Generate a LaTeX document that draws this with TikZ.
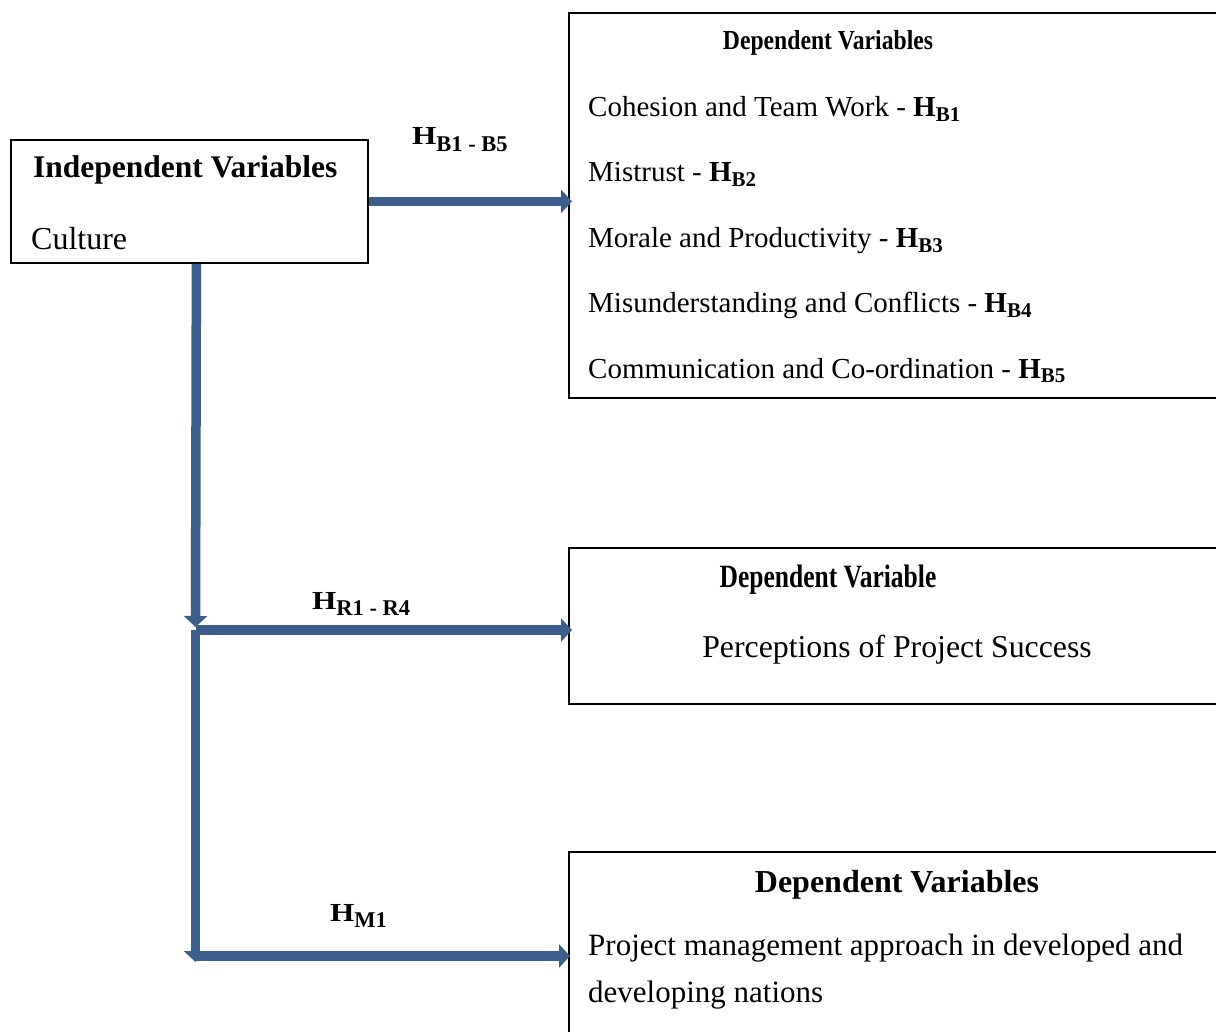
\documentclass[tikz,border=0pt]{standalone}
\usepackage{graphicx}
\usepackage{fontspec}
\setmainfont{Liberation Serif}
\usetikzlibrary{arrows.meta}
\definecolor{arrowblue}{RGB}{59,94,140}
% bold H with a lowered, smaller subscript (used inside the boxes)
\newcommand\hypsub[1]{{\bfseries H\raisebox{-5pt}{\fontsize{21}{21}\selectfont #1}}}
% hypothesis label set above an arrow
\newcommand\arrowlabel[1]{{\bfseries\fontsize{26}{30}\selectfont\scalebox{1.2}[1]{H}\raisebox{-6.4pt}{\fontsize{22.5}{22}\selectfont #1}}}
\begin{document}
\begin{tikzpicture}[x=1pt,y=-1pt,
  box/.style={draw=black, line width=1.8pt, rectangle, inner sep=0pt, anchor=north west},
  txt/.style={inner sep=0pt, anchor=base west, font=\fontsize{29}{35}\selectfont},
  ctxt/.style={inner sep=0pt, anchor=base},
  conn/.style={draw=arrowblue, line width=9.5pt, -{Triangle[length=11pt,width=23pt]}}]
\path[use as bounding box] (0,0) rectangle (1216,1032);
\clip (0,0) rectangle (1216,1032);

% boxes
\node[box, minimum width=357pt, minimum height=123pt] (indep) at (10,139) {};
\node[box, minimum width=680pt, minimum height=385pt] (dep1) at (568,12) {};
\node[box, minimum width=680pt, minimum height=156pt] (dep2) at (568,547) {};
\node[box, minimum width=680pt, minimum height=200pt] (dep3) at (568,851) {};

% independent variables
\node[txt, font=\bfseries\fontsize{31.5}{37}\selectfont] (ivhead) at (33,178) {Independent Variables};
\node[txt, font=\fontsize{32}{38}\selectfont] (ivitem) at (31,250) {Culture};

% first group of dependent variables
\node[ctxt] (dv1head) at (828,50) {\scalebox{0.86}[1]{\bfseries\fontsize{27.5}{32}\selectfont Dependent Variables}};
\node[txt] (dv1a) at (588,117) {Cohesion and Team Work - \hypsub{B1}};
\node[txt] (dv1b) at (588,182) {Mistrust - \hypsub{B2}};
\node[txt] (dv1c) at (588,248) {Morale and Productivity - \hypsub{B3}};
\node[txt] (dv1d) at (588,313) {Misunderstanding and Conflicts - \hypsub{B4}};
\node[txt] (dv1e) at (588,378) {Communication and Co-ordination - \hypsub{B5}};

% second dependent variable
\node[ctxt] (dv2head) at (828,587) {\scalebox{0.785}[1]{\bfseries\fontsize{32.5}{38}\selectfont Dependent Variable}};
\node[ctxt, font=\fontsize{31.8}{38}\selectfont] (dv2item) at (897,657) {Perceptions of Project Success};

% third group of dependent variables
\node[ctxt, font=\bfseries\fontsize{32}{38}\selectfont] (dv3head) at (897,892) {Dependent Variables};
\node[txt, font=\fontsize{31}{37}\selectfont] (dv3a) at (588,955) {Project management approach in developed and};
\node[txt, font=\fontsize{31}{37}\selectfont] (dv3b) at (588,1002) {developing nations};

% hypothesis labels
\node[inner sep=0pt, anchor=base west] (lbB) at (412,145) {\arrowlabel{B1 - B5}};
\node[inner sep=0pt, anchor=base west] (lbR) at (312,609) {\arrowlabel{R1 - R4}};
\node[inner sep=0pt, anchor=base west] (lbM) at (330,921) {\arrowlabel{M1}};

% connectors
\coordinate (j1) at (195.5,627);
\coordinate (j2) at (195.5,630);
\coordinate (j3) at (195.5,962);
\coordinate (j4) at (195.5,956);
\draw[conn] (indep.east) -- ([xshift=4pt]indep.east -| dep1.west);
\draw[conn] ([xshift=7pt]indep.south) -- (j1);
\draw[conn] (j2) -- ([xshift=4pt]j2 -| dep2.west);
\draw[conn] (j2) -- (j3);
\draw[conn] (j4) -- ([xshift=2pt]j4 -| dep3.west);
\end{tikzpicture}
\end{document}
